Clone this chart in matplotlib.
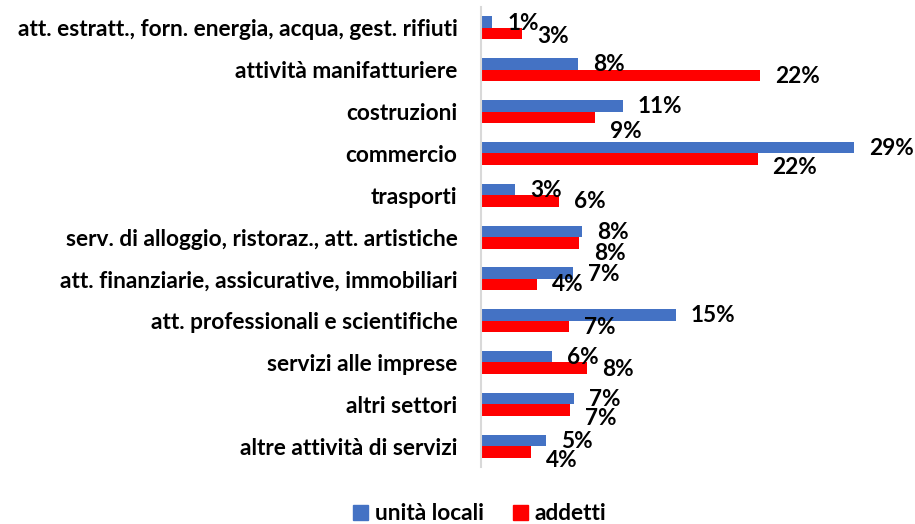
import matplotlib
matplotlib.use("Agg")
import matplotlib.pyplot as plt
from matplotlib.patches import Patch
import numpy as np

categories = [
    "att. estratt., forn. energia, acqua, gest. rifiuti",
    "attività manifatturiere",
    "costruzioni",
    "commercio",
    "trasporti",
    "serv. di alloggio, ristoraz., att. artistiche",
    "att. finanziarie, assicurative, immobiliari",
    "att. professionali e scientifiche",
    "servizi alle imprese",
    "altri settori",
    "altre attività di servizi",
]
unita_locali = [0.86, 7.54, 11.04, 29.0, 2.64, 7.85, 7.15, 15.16, 5.52, 7.23, 5.05]
addetti = [3.19, 21.7, 8.86, 21.5, 6.07, 7.62, 4.35, 6.84, 8.24, 6.92, 3.89]
series_names = ["unità locali", "addetti"]

# label vertical nudges for red labels (pixels, downward) mimicking Excel overlap avoidance
red_label_nudge_px = [2.5, 1.5, 14, 8, 1, 10.5, 0, 1, 1.5, 8.5, 9]

BLUE = "#4472C4"
RED = "#FF0000"
FONT = "Lato"
FS = 16.3
WEIGHT = "bold"

plt.rcParams['font.family'] = [FONT, 'DejaVu Sans']

W, H = 915, 524
fig = plt.figure(figsize=(W / 100, H / 100), dpi=100)
ax_left, ax_right, ax_top, ax_bot = 481, 905.4, 7, 467
ax = fig.add_axes([ax_left / W, 1 - ax_bot / H, (ax_right - ax_left) / W, (ax_bot - ax_top) / H])

y = np.arange(len(categories))
h = 0.275
ax.barh(y - h / 2, unita_locali, height=h, color=BLUE, label=series_names[0])
ax.barh(y + h / 2, addetti, height=h, color=RED, label=series_names[1])

ax.set_xlim(0, 33)
ax.set_ylim(len(categories) - 0.5, -0.5)

for s in ["top", "right", "bottom"]:
    ax.spines[s].set_visible(False)
ax.spines["left"].set_color("#d9d9d9")
ax.spines["left"].set_linewidth(1.5)
ax.set_xticks([])
ax.set_yticks(y)
ax.set_yticklabels(categories, fontsize=FS, fontweight=WEIGHT, color="black")
ax.tick_params(axis="y", length=0, pad=17)

px2pt = 72 / 100
for i, v in enumerate(unita_locali):
    ax.annotate(f"{round(v)}%", xy=(v, y[i] - h / 2), xytext=(15 * px2pt, -1 * px2pt),
                textcoords="offset points", ha="left", va="center",
                fontsize=FS, fontweight=WEIGHT, color="black")
for i, v in enumerate(addetti):
    ax.annotate(f"{round(v)}%", xy=(v, y[i] + h / 2), xytext=(15 * px2pt, -red_label_nudge_px[i] * px2pt),
                textcoords="offset points", ha="left", va="center",
                fontsize=FS, fontweight=WEIGHT, color="black")

handles = [Patch(color=BLUE), Patch(color=RED)]
fig.legend(handles, series_names, loc="center", bbox_to_anchor=(480 / W, 1 - 514 / H),
           ncol=2, frameon=False, prop={"size": FS, "weight": WEIGHT},
           handlelength=0.65, handleheight=0.65, handletextpad=0.3, columnspacing=1.3,
           borderpad=0.1)

fig.savefig("out.png", dpi=100)
